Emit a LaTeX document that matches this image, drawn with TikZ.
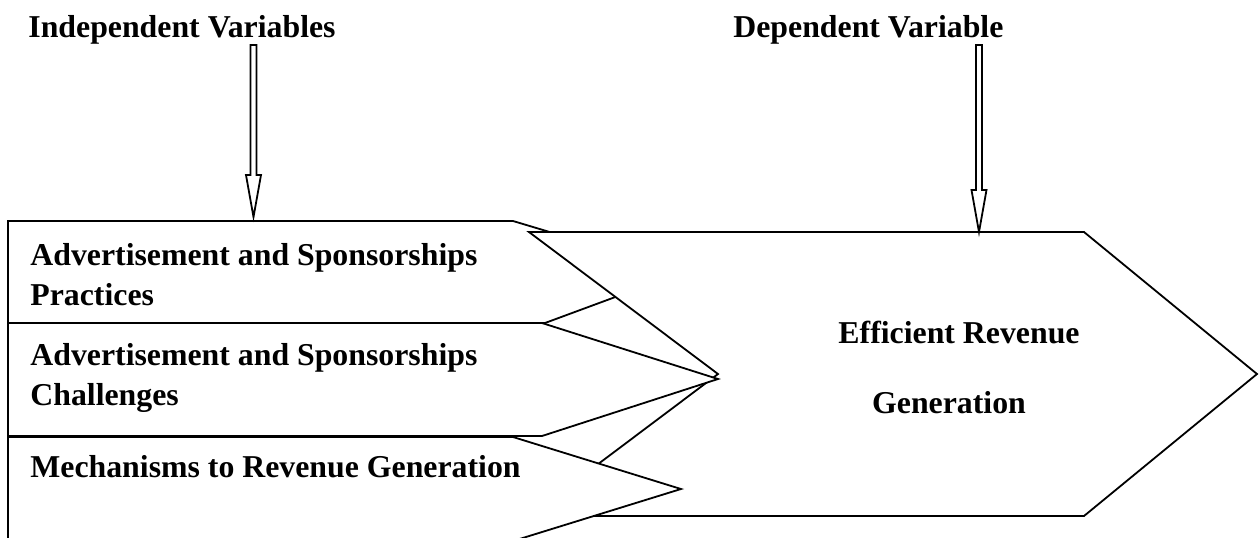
\documentclass[tikz,border=0pt]{standalone}
\usepackage{fontspec}
\setmainfont{Liberation Serif}
\usetikzlibrary{calc}

\tikzset{
	shapeline/.style={draw=black,line width=0.9pt,fill=white,line join=miter},
	txt/.style={font=\fontsize{15.9}{18}\selectfont\bfseries,inner sep=0pt,anchor=base west},
	ctxt/.style={txt,anchor=base},
}

% hollow arrow: #1 = foot, #2 = tip
\newcommand{\hollowarrow}[2]{%
	\draw[shapeline] let \p1=(#1), \p2=(#2) in
		(\x1-1.5pt,\y1) -- (\x1+1.5pt,\y1) -- (\x1+1.5pt,\y2+21pt) -- (\x1+3.75pt,\y2+21pt)
		-- (\x1,\y2) -- (\x1-3.75pt,\y2+21pt) -- (\x1-1.5pt,\y2+21pt) -- cycle;}

\begin{document}
\begin{tikzpicture}[x=0.5pt,y=-0.5pt]
					\useasboundingbox (0,0) rectangle (1259,537);
					\clip (0,0) rectangle (1259,537);
					%HEADINGS
					\node[txt] (indep) at (28,37) {Independent Variables};
					\node[txt] (dep) at (733,37) {Dependent Variable};
					
					%INPUT BOXES AND OUTPUT SHAPE
					\draw[shapeline] (8,221) -- (513,221) -- (683,272) -- (545,323) -- (8,323) -- cycle;
					\draw[shapeline] (529,232) -- (1084,232) -- (1257,374) -- (1084,516) -- (529,516) -- (718,374) -- cycle;
					\draw[shapeline] (8,323) -- (542,323) -- (718,379) -- (542,436) -- (8,436) -- cycle;
					\draw[shapeline] (8,437) -- (513,437) -- (681,489) -- (513,541) -- (8,541) -- cycle;
					
					\node[txt] (practA) at (30,265) {Advertisement and Sponsorships};
					\node[txt] (practB) at (30,305) {Practices};
					\node[txt] (challA) at (30,365) {Advertisement and Sponsorships};
					\node[txt] (challB) at (30,405) {Challenges};
					\node[txt] (mech) at (30,477) {Mechanisms to Revenue Generation};
					\node[ctxt] (effA) at (959,343) {Efficient Revenue};
					\node[ctxt] (effB) at (949,413) {Generation};
					
					%ARROWS
					\coordinate (indepfoot) at (253.5,45);
					\coordinate (boxtop) at (253.5,217);
					\coordinate (depfoot) at (979,45);
					\coordinate (effTop) at (979,232);
					\hollowarrow{indepfoot}{boxtop}
					\hollowarrow{depfoot}{effTop}
					
				  \end{tikzpicture}
\end{document}
